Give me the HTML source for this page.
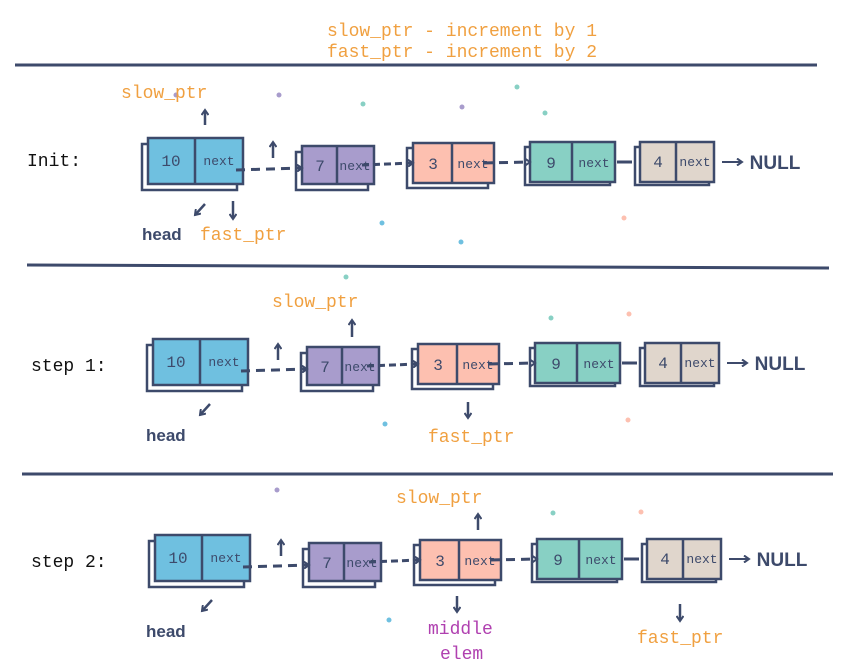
<!DOCTYPE html>
<html><head><meta charset="utf-8"><style>
html,body{margin:0;padding:0;background:#fff;width:848px;height:672px;overflow:hidden}
svg text{font-family:"Liberation Mono","DejaVu Sans Mono",monospace}
svg text.sans{font-family:"Liberation Sans","DejaVu Sans",sans-serif;font-weight:bold}
</style></head><body>
<svg width="848" height="672" viewBox="0 0 848 672" xmlns="http://www.w3.org/2000/svg">
<defs>
<marker id="ah" markerWidth="8" markerHeight="8" refX="6" refY="4" orient="auto" markerUnits="userSpaceOnUse">
<path d="M1,0.5 L6,4 L1,7.5" fill="none" stroke="#3d4a6b" stroke-width="2"/></marker>
</defs>
<g fill="#f0a040" font-size="18" text-anchor="middle">
<text x="462" y="36">slow_ptr - increment by 1</text>
<text x="462" y="57">fast_ptr - increment by 2</text>
</g>
<g stroke="#3d4a6b" stroke-width="3">
<line x1="15" y1="65" x2="817" y2="65"/>
<line x1="27" y1="265" x2="829" y2="268"/>
<line x1="22" y1="474" x2="833" y2="474"/>
</g>
<g>
<circle cx="176" cy="95" r="2.5" fill="#a89ccc"/><circle cx="279" cy="95" r="2.5" fill="#a89ccc"/>
<circle cx="363" cy="104" r="2.5" fill="#88d0c4"/><circle cx="517" cy="87" r="2.5" fill="#88d0c4"/>
<circle cx="462" cy="107" r="2.5" fill="#a89ccc"/><circle cx="545" cy="113" r="2.5" fill="#88d0c4"/>
<circle cx="382" cy="223" r="2.5" fill="#6fc0e0"/><circle cx="461" cy="242" r="2.5" fill="#6fc0e0"/>
<circle cx="624" cy="218" r="2.5" fill="#fdc0b0"/><circle cx="346" cy="277" r="2.5" fill="#88d0c4"/>
<circle cx="551" cy="318" r="2.5" fill="#88d0c4"/><circle cx="629" cy="314" r="2.5" fill="#fdc0b0"/>
<circle cx="385" cy="424" r="2.5" fill="#6fc0e0"/><circle cx="628" cy="420" r="2.5" fill="#fdc0b0"/>
<circle cx="277" cy="490" r="2.5" fill="#a89ccc"/><circle cx="553" cy="513" r="2.5" fill="#88d0c4"/>
<circle cx="641" cy="512" r="2.5" fill="#fdc0b0"/><circle cx="389" cy="620" r="2.5" fill="#6fc0e0"/>
</g>
<g font-size="18" fill="#111">
<text x="27" y="166">Init:</text>
<text x="31" y="371">step 1:</text>
<text x="31" y="567">step 2:</text>
</g>

<g id="r1">
 <g stroke="#3d4a6b" stroke-width="2.5">
  <rect x="142" y="144" width="95" height="46" fill="#fff"/><rect x="148" y="138" width="95" height="46" fill="#6fc0e0"/><line x1="195" y1="138" x2="195" y2="184"/>
  <rect x="296" y="152" width="72" height="38" fill="#fff"/><rect x="302" y="146" width="72" height="38" fill="#a89ccc"/><line x1="337" y1="146" x2="337" y2="184"/>
  <rect x="407" y="148" width="81" height="40" fill="#fff"/><rect x="413" y="143" width="81" height="40" fill="#fdc0b0"/><line x1="452" y1="143" x2="452" y2="183"/>
  <rect x="525" y="147" width="85" height="38" fill="#fff"/><rect x="530" y="142" width="85" height="40" fill="#88d0c4"/><line x1="572" y1="142" x2="572" y2="182"/>
  <rect x="635" y="147" width="74" height="38" fill="#fff"/><rect x="640" y="142" width="74" height="40" fill="#e0d6cc"/><line x1="676" y1="142" x2="676" y2="182"/>
 </g>
 <g fill="#3d4a6b" text-anchor="middle">
  <text x="171" y="166" font-size="16">10</text><text x="219" y="165" font-size="13">next</text>
  <text x="320" y="171" font-size="16">7</text><text x="355" y="170" font-size="13">next</text>
  <text x="433" y="169" font-size="16">3</text><text x="473" y="168" font-size="13">next</text>
  <text x="551" y="168" font-size="16">9</text><text x="594" y="167" font-size="13">next</text>
  <text x="658" y="167" font-size="16">4</text><text x="695" y="166" font-size="13">next</text>
  <text x="775" y="169" font-size="19" class="sans">NULL</text>
 </g>
 <g stroke="#3d4a6b" stroke-width="3" fill="none">
  <line x1="236" y1="170" x2="302" y2="168" stroke-dasharray="9,6" marker-end="url(#ah)"/>
  <line x1="362" y1="165" x2="413" y2="163" stroke-dasharray="7,4" marker-end="url(#ah)"/>
  <line x1="484" y1="163" x2="530" y2="162" stroke-dasharray="9,6" marker-end="url(#ah)"/>
  <line x1="617" y1="162" x2="632" y2="162"/>
  <line x1="722" y1="162" x2="742" y2="162" stroke-width="2" marker-end="url(#ah)"/>
 </g>
</g>
<use href="#r1" transform="translate(5,201)"/>
<use href="#r1" transform="translate(7,397)"/>

<g stroke="#3d4a6b" stroke-width="2.5" fill="none" marker-end="url(#ah)">
 <path d="M205,125 L205,110"/><path d="M273,158 L273,142"/><path d="M205,204 L195,215"/><path d="M233,201 L233,219"/>
 <path d="M352,337 L352,320"/><path d="M278,360 L278,344"/><path d="M210,404 L200,415"/><path d="M468,402 L468,418"/>
 <path d="M478,530 L478,514"/><path d="M281,556 L281,540"/><path d="M212,600 L202,611"/><path d="M457,596 L457,612"/><path d="M680,604 L680,621"/>
</g>
<g fill="#3d4a6b" font-size="17">
 <text x="142" y="240" class="sans">head</text><text x="146" y="441" class="sans">head</text><text x="146" y="637" class="sans">head</text>
</g>
<g fill="#f0a040" font-size="18">
 <text x="121" y="98">slow_ptr</text><text x="200" y="240">fast_ptr</text>
 <text x="272" y="307">slow_ptr</text><text x="428" y="442">fast_ptr</text>
 <text x="396" y="503">slow_ptr</text><text x="637" y="643">fast_ptr</text>
</g>
<g fill="#b040b0" font-size="18">
 <text x="428" y="634">middle</text><text x="440" y="659">elem</text>
</g>
</svg>
</body></html>
